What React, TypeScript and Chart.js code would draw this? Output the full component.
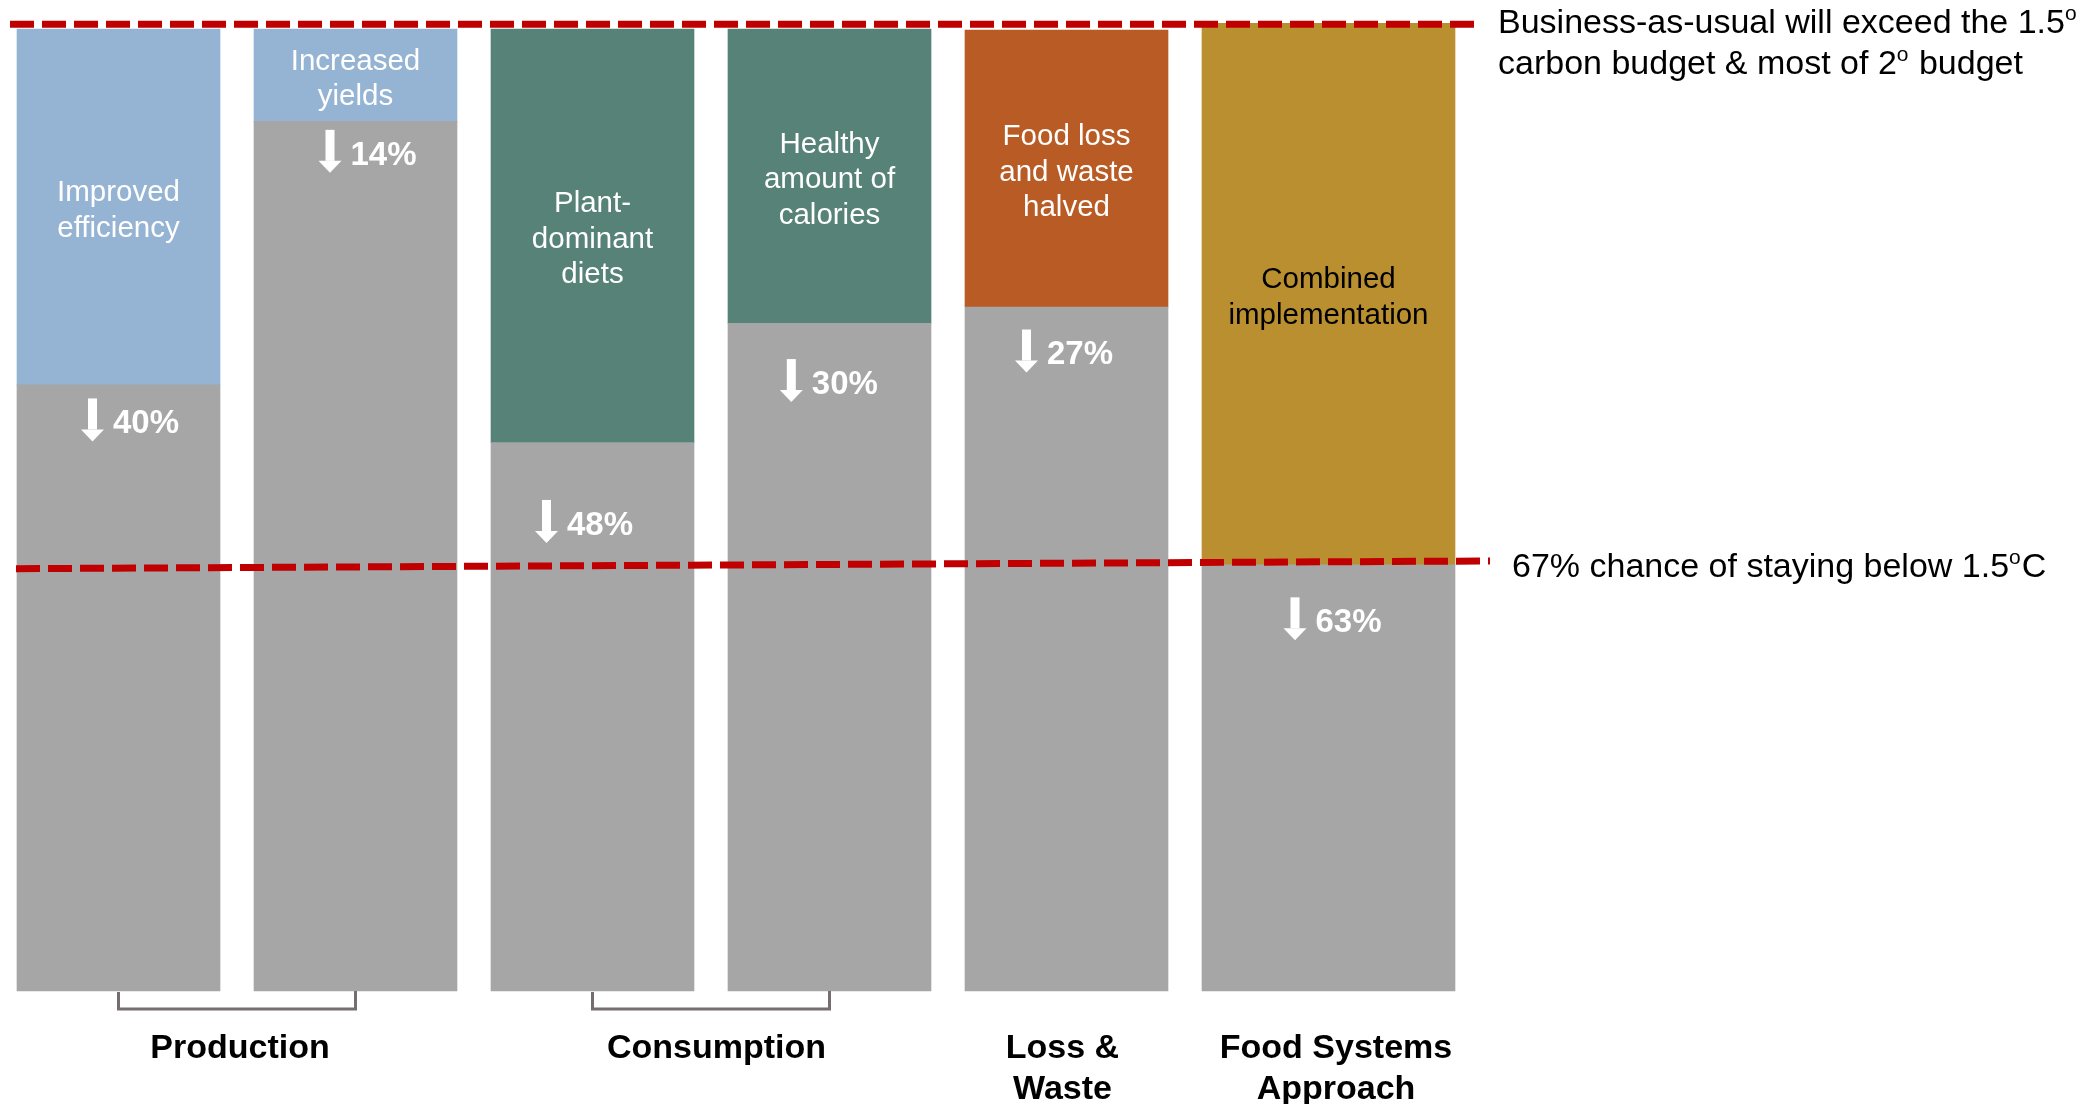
import React, { useEffect, useRef } from "react";
import { Chart, CategoryScale, registerables } from "chart.js";

// ---------------- DATA ----------------
const categories = [
  "Improved efficiency",
  "Increased yields",
  "Plant-dominant diets",
  "Healthy amount of calories",
  "Food loss and waste halved",
  "Combined implementation",
];

const segmentLabelLines: string[][] = [
  ["Improved", "efficiency"],
  ["Increased", "yields"],
  ["Plant-", "dominant", "diets"],
  ["Healthy", "amount of", "calories"],
  ["Food loss", "and waste", "halved"],
  ["Combined", "implementation"],
];

// Remaining emissions as drawn (business-as-usual = 100)
const remainingEmissions = [63.0, 90.4, 57.0, 69.4, 71.1, 44.3];
// Top of each scenario column as drawn
const scenarioTop = [100, 100, 100, 100, 99.9, 100.6];
// Reduction labels
const reductionLabels = ["40%", "14%", "48%", "30%", "27%", "63%"];

// Reference levels (same units)
const bauLevel = 100.5;
const threshold15Start = 43.9;
const threshold15End = 44.7;

const groupNames: string[][] = [["Production"], ["Consumption"], ["Loss &", "Waste"], ["Food Systems", "Approach"]];
const groupFirst = [0, 2, 4, 5];
const groupLast = [1, 3, 4, 5];
const groupBracket = [true, true, false, false];

const bauNote: [string, boolean][][] = [
  [["Business-as-usual will exceed the 1.5", false], ["o", true]],
  [["carbon budget & most of 2", false], ["o", true], [" budget", false]],
];
const thresholdNote: [string, boolean][] = [
  ["67% chance of staying below 1.5", false],
  ["o", true],
  ["C", false],
];

// ---------------- STYLE / LAYOUT ----------------
const FONT = '"Liberation Sans", Arial, Helvetica, sans-serif';
const GRAY = "#A6A6A6";
const segmentColors = ["#95B3D3", "#95B3D3", "#568277", "#568277", "#B95B24", "#B98F2F"];
const segmentTextColors = ["#FFFFFF", "#FFFFFF", "#FFFFFF", "#FFFFFF", "#FFFFFF", "#000000"];
const arrowLabelDx = [-26, -25.5, -46, -38.2, -40, -33.5];
const arrowLabelDy = [36.5, 31.5, 80.3, 58.7, 45.5, 55.5];
const groupLabelDx = [3, 5.5, -4, 7.5];
const RED = "#C00000";
const BAR_W = 203;
const WIDE_BAR_W = 253;
const GAP = 34;
const barWidths = categories.map((_, i) => (i === categories.length - 1 ? WIDE_BAR_W : BAR_W));
const bandWeights = barWidths.map((w) => w + GAP);
const bandTotal = bandWeights.reduce((a, b) => a + b, 0);

// Category scale whose bands are proportional to the bar widths
class BandScale extends (CategoryScale as any) {
  static id = "band";
  static defaults = (CategoryScale as any).defaults;
  getPixelForValue(value: any) {
    let v = value;
    if (typeof v !== "number") v = (this as any).parse(v);
    if (v === null || v === undefined || isNaN(v)) return NaN;
    const idx = Math.round(v);
    let acc = 0;
    for (let k = 0; k < idx; k++) acc += bandWeights[k];
    acc += bandWeights[idx] / 2;
    return (this as any).getPixelForDecimal(acc / bandTotal);
  }
  getPixelForTick(index: number) {
    return this.getPixelForValue((this as any).ticks[index].value);
  }
}

Chart.register(...registerables, BandScale as any);

function drawRich(ctx: CanvasRenderingContext2D, parts: [string, boolean][], x: number, baseline: number, size: number) {
  let cx = x;
  ctx.textAlign = "left";
  ctx.textBaseline = "alphabetic";
  for (const [t, sup] of parts) {
    const s = sup ? Math.round(size * 0.62) : size;
    ctx.font = `${s}px ${FONT}`;
    ctx.fillText(t, cx, sup ? baseline - size * 0.37 : baseline);
    cx += ctx.measureText(t).width + (sup ? 1 : 0);
  }
}

const overlayPlugin = {
  id: "overlay",
  afterDatasetsDraw(chart: any) {
    const ctx: CanvasRenderingContext2D = chart.ctx;
    const xS = chart.scales.x;
    const yS = chart.scales.y;
    const bottom = yS.getPixelForValue(0);
    ctx.save();

    // dashed reference lines
    ctx.setLineDash([24, 8]);
    ctx.lineCap = "butt";
    ctx.lineWidth = 7;
    ctx.strokeStyle = RED;
    ctx.beginPath();
    ctx.moveTo(10, yS.getPixelForValue(bauLevel));
    ctx.lineTo(1476, yS.getPixelForValue(bauLevel));
    ctx.stroke();
    ctx.beginPath();
    ctx.moveTo(16, yS.getPixelForValue(threshold15Start));
    ctx.lineTo(1490, yS.getPixelForValue(threshold15End));
    ctx.stroke();
    ctx.setLineDash([]);

    for (let i = 0; i < categories.length; i++) {
      const cx = xS.getPixelForValue(i);
      const yTop = yS.getPixelForValue(scenarioTop[i]);
      const yMid = yS.getPixelForValue(remainingEmissions[i]);
      // segment text
      const lines = segmentLabelLines[i];
      const center = (yTop + yMid) / 2 + 1.5;
      ctx.font = `29.5px ${FONT}`;
      ctx.fillStyle = segmentTextColors[i];
      ctx.textAlign = "center";
      ctx.textBaseline = "alphabetic";
      lines.forEach((ln, k) => {
        ctx.fillText(ln, cx, center + (k - (lines.length - 1) / 2) * 35.5 + 10.6);
      });
      // arrow + reduction label
      const ty = yMid + arrowLabelDy[i];
      const ax = cx + arrowLabelDx[i];
      ctx.fillStyle = "#FFFFFF";
      ctx.fillRect(ax - 4.5, ty - 23, 9, 31);
      ctx.beginPath();
      ctx.moveTo(ax - 11.5, ty + 8);
      ctx.lineTo(ax + 11.5, ty + 8);
      ctx.lineTo(ax, ty + 20);
      ctx.closePath();
      ctx.fill();
      ctx.font = `bold 33px ${FONT}`;
      ctx.textAlign = "left";
      ctx.fillText(reductionLabels[i], ax + 20.5, ty + 11.8);
    }

    // brackets and group labels
    ctx.strokeStyle = "#766E6E";
    ctx.lineWidth = 3;
    for (let g = 0; g < groupNames.length; g++) {
      const x1 = xS.getPixelForValue(groupFirst[g]);
      const x2 = xS.getPixelForValue(groupLast[g]);
      if (groupBracket[g]) {
        ctx.beginPath();
        ctx.moveTo(x1, bottom + 1);
        ctx.lineTo(x1, bottom + 18);
        ctx.lineTo(x2, bottom + 18);
        ctx.lineTo(x2, bottom);
        ctx.stroke();
      }
      ctx.fillStyle = "#000000";
      ctx.font = `bold 34px ${FONT}`;
      ctx.textAlign = "center";
      ctx.textBaseline = "alphabetic";
      const mid = (x1 + x2) / 2 + groupLabelDx[g];
      groupNames[g].forEach((ln, k) => ctx.fillText(ln, mid, 1057.5 + k * 41));
    }

    // right-hand notes
    ctx.fillStyle = "#000000";
    bauNote.forEach((parts, k) => drawRich(ctx, parts, 1498, 33 + k * 41, 34));
    drawRich(ctx, thresholdNote, 1512, 577, 34);

    ctx.restore();
  },
};

export default function App() {
  const ref = useRef<HTMLCanvasElement>(null);
  useEffect(() => {
    const canvas = ref.current;
    if (!canvas) return;
    const n = categories.length;
    const firstFive = (arr: number[]) => arr.map((v, i) => (i < n - 1 ? v : null));
    const lastOnly = (arr: number[]) => arr.map((v, i) => (i === n - 1 ? v : null));
    const colored = scenarioTop.map((t, i) => t - remainingEmissions[i]);
    const common = { stack: "all", borderWidth: 0, clip: false as any, categoryPercentage: 1, barPercentage: 1 };
    const chart = new Chart(canvas, {
      type: "bar",
      data: {
        labels: categories,
        datasets: [
          { ...common, label: "Remaining emissions", data: firstFive(remainingEmissions), backgroundColor: GRAY, barThickness: BAR_W },
          { ...common, label: "Reduction", data: firstFive(colored), backgroundColor: segmentColors, barThickness: BAR_W },
          { ...common, label: "Remaining emissions (combined)", data: lastOnly(remainingEmissions), backgroundColor: GRAY, barThickness: WIDE_BAR_W },
          { ...common, label: "Reduction (combined)", data: lastOnly(colored), backgroundColor: segmentColors, barThickness: WIDE_BAR_W },
        ] as any,
      },
      options: {
        responsive: false,
        animation: false,
        devicePixelRatio: 1,
        layout: { padding: { left: 0, right: 2094 - bandTotal, top: 29, bottom: 113 } },
        scales: {
          x: { type: "band", display: false, offset: false, stacked: true, grid: { display: false } },
          y: { display: false, min: 0, max: 100, stacked: true, grid: { display: false } },
        },
        plugins: { legend: { display: false }, tooltip: { enabled: false }, title: { display: false } },
      } as any,
      plugins: [overlayPlugin],
    });
    return () => chart.destroy();
  }, []);
  return (
    <div style={{ position: "absolute", left: 0, top: 0, width: 2094, height: 1104, background: "#FFFFFF" }}>
      <canvas ref={ref} width={2094} height={1104} style={{ display: "block", width: 2094, height: 1104 }} />
    </div>
  );
}
